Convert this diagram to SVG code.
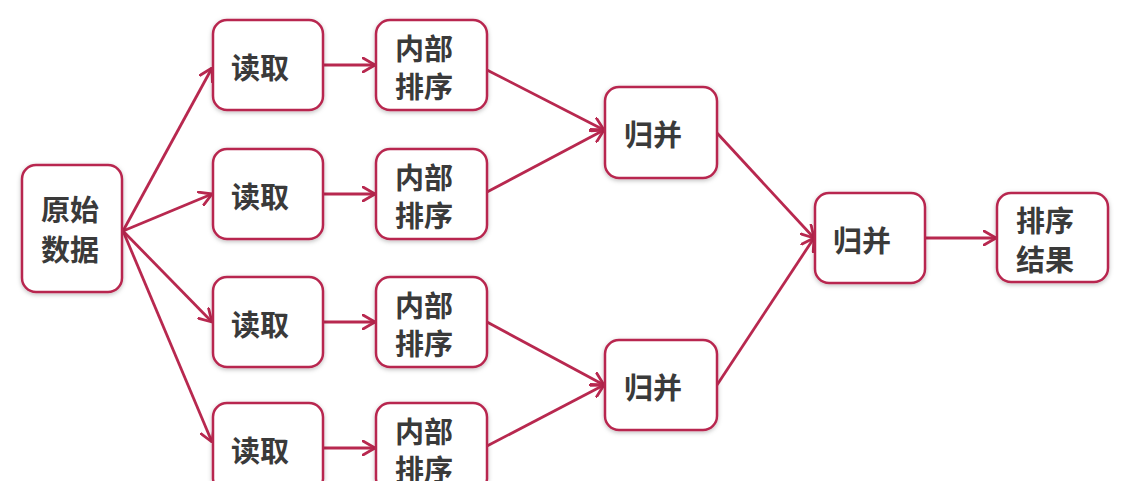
<svg xmlns="http://www.w3.org/2000/svg" width="1135" height="481" viewBox="0 0 1135 481">
<defs>
<filter id="sh" x="-20%" y="-20%" width="140%" height="140%">
<feDropShadow dx="0" dy="1.5" stdDeviation="2" flood-color="#000" flood-opacity="0.25"/>
</filter>
<marker id="ah" viewBox="0 0 14 16" refX="13" refY="8" markerWidth="14" markerHeight="16" markerUnits="userSpaceOnUse" orient="auto">
<path d="M1,1 L13,8 L1,15" fill="none" stroke="#b8284f" stroke-width="2.8" stroke-linecap="round" stroke-linejoin="round"/>
</marker>
<style>
.box{fill:#fff;stroke:#b8284f;stroke-width:2.5;filter:url(#sh)}
.t{font-family:"Noto Sans CJK SC","Noto Sans",sans-serif;font-weight:bold;font-size:29px;fill:#3a3a3a;text-anchor:middle;dominant-baseline:central}
.c{fill:none;stroke:#b8284f;stroke-width:2.8;marker-end:url(#ah)}
</style>
</defs>
<rect width="1135" height="481" fill="#fff"/>
<g id="connectors">
<line class="c" x1="123" y1="231" x2="212" y2="68"/>
<line class="c" x1="123" y1="231" x2="212" y2="194"/>
<line class="c" x1="123" y1="231" x2="212" y2="322"/>
<line class="c" x1="123" y1="231" x2="212" y2="442"/>
<line class="c" x1="323" y1="65" x2="375" y2="65"/>
<line class="c" x1="323" y1="194" x2="375" y2="194"/>
<line class="c" x1="323" y1="322" x2="375" y2="322"/>
<line class="c" x1="323" y1="448" x2="375" y2="448"/>
<line class="c" x1="487" y1="70" x2="604" y2="130"/>
<line class="c" x1="487" y1="192" x2="604" y2="130"/>
<line class="c" x1="487" y1="322" x2="604" y2="385"/>
<line class="c" x1="487" y1="446" x2="604" y2="385"/>
<line class="c" x1="717" y1="133" x2="814" y2="238"/>
<line class="c" x1="717" y1="385" x2="814" y2="238"/>
<line class="c" x1="925" y1="238" x2="996" y2="238"/>
</g>
<g id="n-src"><rect class="box" x="22" y="165" width="100" height="127" rx="14"/><text class="t" x="70" y="208">原始</text><text class="t" x="70" y="248">数据</text></g>
<g id="n-read1"><rect class="box" x="213" y="20" width="110" height="90" rx="14"/><text class="t" x="260" y="66">读取</text></g>
<g id="n-read2"><rect class="box" x="213" y="149" width="110" height="90" rx="14"/><text class="t" x="260" y="195">读取</text></g>
<g id="n-read3"><rect class="box" x="213" y="277" width="110" height="90" rx="14"/><text class="t" x="260" y="323">读取</text></g>
<g id="n-read4"><rect class="box" x="213" y="403" width="110" height="90" rx="14"/><text class="t" x="260" y="449">读取</text></g>
<g id="n-sort1"><rect class="box" x="376" y="20" width="111" height="90" rx="14"/><text class="t" x="424" y="47">内部</text><text class="t" x="424" y="85">排序</text></g>
<g id="n-sort2"><rect class="box" x="376" y="149" width="111" height="90" rx="14"/><text class="t" x="424" y="176">内部</text><text class="t" x="424" y="214">排序</text></g>
<g id="n-sort3"><rect class="box" x="376" y="277" width="111" height="90" rx="14"/><text class="t" x="424" y="304">内部</text><text class="t" x="424" y="342">排序</text></g>
<g id="n-sort4"><rect class="box" x="376" y="403" width="111" height="90" rx="14"/><text class="t" x="424" y="430">内部</text><text class="t" x="424" y="468">排序</text></g>
<g id="n-merge1"><rect class="box" x="605" y="87" width="112" height="91" rx="14"/><text class="t" x="653" y="133">归并</text></g>
<g id="n-merge2"><rect class="box" x="605" y="340" width="112" height="90" rx="14"/><text class="t" x="653" y="386">归并</text></g>
<g id="n-merge3"><rect class="box" x="815" y="193" width="110" height="90" rx="14"/><text class="t" x="862" y="239">归并</text></g>
<g id="n-result"><rect class="box" x="997" y="193" width="111" height="89" rx="14"/><text class="t" x="1045" y="219">排序</text><text class="t" x="1045" y="258">结果</text></g>
</svg>
